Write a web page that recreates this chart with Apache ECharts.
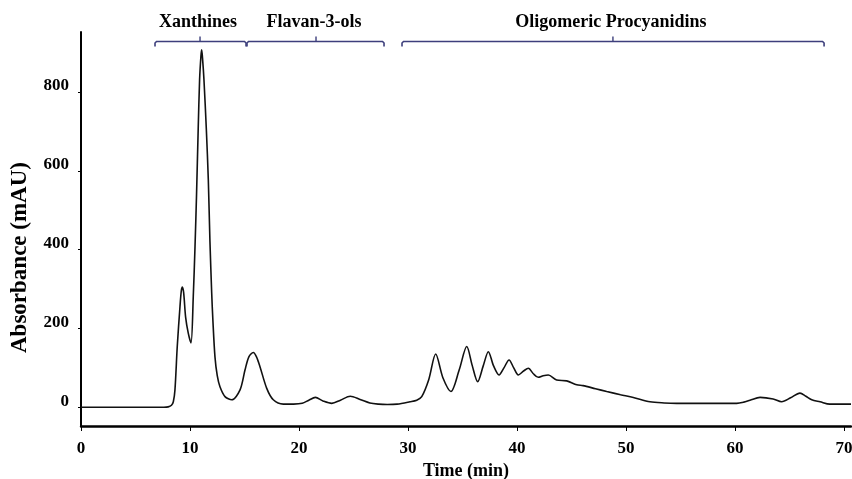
<!DOCTYPE html>
<html>
<head>
<meta charset="utf-8">
<script src="https://cdn.jsdelivr.net/npm/echarts@6/dist/echarts.min.js"></script>
<style>
html,body{margin:0;padding:0;background:#fff;}
#chart{width:852px;height:479px;}
</style>
</head>
<body>
<div id="chart"></div>
<script>
// Retention time (min)
const times = [0,4,7.6,8.0,8.3,8.47,8.62,8.83,9.08,9.2,9.3,9.42,9.6,9.84,10.09,10.3,10.46,10.6,10.75,10.88,11.0,11.07,11.15,11.28,11.5,11.68,11.83,11.99,12.1,12.29,12.5,12.75,13.21,13.83,14.59,15.05,15.4,15.81,16.1,16.42,17.04,17.64,18.56,19.5,20.3,20.9,21.5,22.2,23.0,23.8,24.7,25.6,26.5,27.3,28.1,29.0,30.18,30.8,31.26,31.9,32.54,33.2,33.94,34.7,35.39,35.9,36.39,36.9,37.37,37.85,38.35,38.8,39.27,39.7,40.12,40.6,41.04,41.5,41.95,42.4,42.87,43.64,44.56,45.48,46.06,47.2,48.23,49.5,50.67,52.2,53.5,54.65,60.15,60.8,61.38,62.3,63.5,64.28,65.1,65.96,66.5,67.04,67.8,68.7,70.64];
// Absorbance (mAU)
const absorbance = [0,0,0,1,5,14,44,154,255,295,305,290,228,188,163,281,408,540,704,831,890,907,885,831,704,577,420,290,220,128,80,52,27,19,44,95,128,139,128,103,48,19,8,8,10,18,25,16,10,18,28,20,11,8,7,8,14,18,27,70,135,75,40,95,154,105,65,105,141,105,82,100,120,100,82,92,99,85,76,80,82,69,67,57,55,47,40,32,25,14,11,10,10,13,18,25,21,14,24,36,28,19,14,8,8];

// Compound-class brackets: start, end, centre (min)
const groupNames = ['Xanthines', 'Flavan-3-ols', 'Oligomeric Procyanidins'];
const groupStart = [6.79, 15.23, 29.45];
const groupEnd = [15.14, 27.8, 68.17];
const groupCenter = [10.92, 21.56, 48.8];
const bracketLevel = 928;

const xTicks = [0,10,20,30,40,50,60,70];
const yTicks = [0,200,400,600,800];

const chart = echarts.init(document.getElementById('chart'));
const FONT = '"Liberation Serif", "Times New Roman", serif';
const curve = times.map((t, i) => [t, absorbance[i]]);
const brackets = groupNames.map((n, i) => [groupStart[i], groupEnd[i], groupCenter[i], bracketLevel]);

chart.setOption({
  animation: false,
  backgroundColor: '#fff',
  grid: { left: 81, right: 1, top: 32, bottom: 53, containLabel: false, outerBoundsMode: 'none' },
  xAxis: {
    type: 'value', min: 0, max: 70.64,
    name: 'Time (min)', nameLocation: 'middle', nameGap: 35,
    nameTextStyle: { fontFamily: FONT, fontWeight: 'bold', fontSize: 18, color: '#000' },
    axisLine: { show: true, onZero: false, lineStyle: { color: '#000', width: 2.5 } },
    axisTick: { show: true, length: 5, lineStyle: { color: '#000', width: 1 }, customValues: xTicks },
    axisLabel: { customValues: xTicks, margin: 14, fontFamily: FONT, fontWeight: 'bold', fontSize: 17, color: '#000' },
    splitLine: { show: false }
  },
  yAxis: {
    type: 'value', min: -47.5, max: 952,
    name: 'Absorbance (mAU)', nameLocation: 'middle', nameGap: 49, nameRotate: 90,
    nameTextStyle: { fontFamily: FONT, fontWeight: 'bold', fontSize: 23, color: '#000', padding: [0, 57, 0, 0] },
    axisLine: { show: true, onZero: false, lineStyle: { color: '#000', width: 2 } },
    axisTick: { show: true, length: 3, lineStyle: { color: '#000', width: 1 }, customValues: yTicks },
    axisLabel: { customValues: yTicks, margin: 12, verticalAlign: 'bottom', lineHeight: 12, fontFamily: FONT, fontWeight: 'bold', fontSize: 17, color: '#000' },
    splitLine: { show: false }
  },
  series: [
    {
      type: 'line', data: curve, showSymbol: false, smooth: 0.3,
      lineStyle: { color: '#111', width: 1.6 }, silent: true, clip: false
    },
    {
      type: 'custom', data: brackets, clip: false, silent: true,
      encode: { x: [0, 1, 2], y: 3 },
      renderItem: function (params, api) {
        const s = api.coord([api.value(0), api.value(3)]);
        const e = api.coord([api.value(1), api.value(3)]);
        const c = api.coord([api.value(2), api.value(3)]);
        const stroke = '#3d3f7c';
        return {
          type: 'group',
          children: [
            { type: 'polyline', shape: { points: [[s[0], s[1] + 5], [s[0], s[1] + 1.5], [s[0] + 1.5, s[1]], [e[0] - 1.5, e[1]], [e[0], e[1] + 1.5], [e[0], e[1] + 5]] },
              style: { stroke: stroke, lineWidth: 1.6, fill: null } },
            { type: 'line', shape: { x1: c[0], y1: c[1], x2: c[0], y2: c[1] - 5 }, style: { stroke: stroke, lineWidth: 1.4 } },
            { type: 'text', style: { text: groupNames[params.dataIndex], x: c[0] - 2, y: c[1] - 19, align: 'center', verticalAlign: 'middle',
              font: 'bold 18px ' + FONT, fill: '#000' } }
          ]
        };
      }
    }
  ]
});
</script>
</body>
</html>
